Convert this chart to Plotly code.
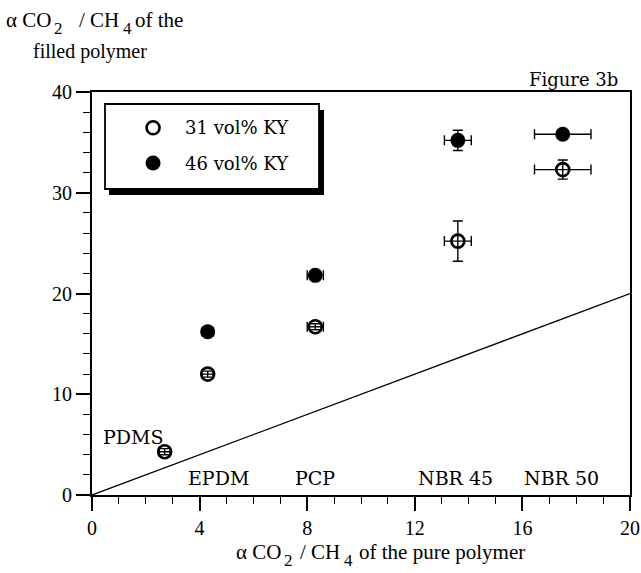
import plotly.graph_objects as go

# Pure-polymer selectivity and filled-polymer selectivity (CO2/CH4)
polymers = ["PDMS", "EPDM", "PCP", "NBR 45", "NBR 50"]
pure_alpha = [2.7, 4.3, 8.3, 13.6, 17.5]
pure_alpha_err = [0.2, 0.2, 0.3, 0.5, 1.05]

series_names = ["31 vol% KY", "46 vol% KY"]
filled_31 = [4.3, 12.0, 16.7, 25.2, 32.3]
filled_31_err = [0.3, 0.3, 0.3, 2.0, 0.95]
filled_46 = [None, 16.2, 21.8, 35.2, 35.8]
filled_46_err = [None, 0.2, 0.3, 1.0, 0.3]

parity = [0, 20]

x_ticks = [0, 4, 8, 12, 16, 20]
y_ticks = [0, 10, 20, 30, 40]

# layout helpers (pixel frame of the plot area)
W, H = 641, 573
L, R, T, B = 92, 11, 92, 78
PW, PH = W - L - R, H - T - B


def px(xp):
    return (xp - L) / PW


def py(yp):
    return (H - B - yp) / PH


SERIF = "Liberation Serif, Times New Roman, serif"
SCHOOL = "DejaVu Serif, serif"

fig = go.Figure()

# y = x reference line
fig.add_trace(go.Scatter(x=parity, y=parity, mode="lines",
                         line=dict(color="black", width=1.3),
                         hoverinfo="skip", showlegend=False))

err_style = dict(color="black", thickness=1.4, width=5)
open_marker = dict(symbol="circle-open", size=13, color="black",
                   line=dict(width=2.6, color="black"))
solid_marker = dict(symbol="circle", size=15, color="black")

fig.add_trace(go.Scatter(
    x=pure_alpha, y=filled_31, mode="markers", name=series_names[0],
    error_x=dict(type="data", array=pure_alpha_err, **err_style),
    error_y=dict(type="data", array=filled_31_err, **err_style),
    marker=open_marker, showlegend=False))

fig.add_trace(go.Scatter(
    x=pure_alpha, y=filled_46, mode="markers", name=series_names[1],
    error_x=dict(type="data", array=pure_alpha_err, **err_style),
    error_y=dict(type="data", array=filled_46_err, **err_style),
    marker=solid_marker, showlegend=False))

# legend keys
key_x = 2.27
key_y = [36.45, 32.95]
fig.add_trace(go.Scatter(x=[key_x], y=[key_y[0]], mode="markers",
                         marker=open_marker, hoverinfo="skip", showlegend=False))
fig.add_trace(go.Scatter(x=[key_x], y=[key_y[1]], mode="markers",
                         marker=solid_marker, hoverinfo="skip", showlegend=False))

shapes = [
    # legend shadow and box
    dict(type="rect", xref="paper", yref="paper",
         x0=px(109), x1=px(324), y0=py(195), y1=py(110),
         fillcolor="black", line=dict(width=0), layer="below"),
    dict(type="rect", xref="paper", yref="paper",
         x0=px(105), x1=px(319), y0=py(189), y1=py(104),
         fillcolor="white", line=dict(color="black", width=1.8), layer="below"),
]

annotations = []
for name, yk in zip(series_names, key_y):
    annotations.append(dict(x=px(183), y=yk, xref="paper", yref="y",
                            text=name, showarrow=False, xanchor="left",
                            yanchor="middle",
                            font=dict(family=SCHOOL, size=18, color="black")))

label_x = [1.55, 4.7, 8.3, 13.5, 17.45]
label_y = [5.8, 1.65, 1.65, 1.65, 1.65]
for name, lx, ly in zip(polymers, label_x, label_y):
    annotations.append(dict(x=lx, y=ly, xref="x", yref="y", text=name,
                            showarrow=False, xanchor="center", yanchor="middle",
                            font=dict(family=SCHOOL, size=19, color="black")))


def text_run(pieces, y_main, y_sub, size_main, size_sub):
    """Lay out a line of text with near full-size subscripts, left to right."""
    out = []
    for left, s, is_sub in pieces:
        out.append(dict(x=px(left - 2), y=py(y_sub if is_sub else y_main),
                        xref="paper", yref="paper", text=s, showarrow=False,
                        xanchor="left", yanchor="middle", borderpad=0,
                        font=dict(family=SERIF,
                                  size=size_sub if is_sub else size_main,
                                  color="black")))
    return out


# y-axis title (top left), two lines
annotations += text_run([(7, "α CO", False), (55, "2", True),
                         (80, "/ CH", False), (124, "4", True),
                         (136, "of the", False)],
                        y_main=20, y_sub=28, size_main=21, size_sub=17)
annotations.append(dict(x=px(31), y=py(52), xref="paper", yref="paper",
                        text="filled polymer", showarrow=False,
                        xanchor="left", yanchor="middle",
                        font=dict(family=SERIF, size=20, color="black")))

# x-axis title
annotations += text_run([(237, "α CO", False), (285, "2", True),
                         (301, "/ CH", False), (345, "4", True),
                         (360, "of the pure polymer", False)],
                        y_main=552, y_sub=560, size_main=21, size_sub=17)

annotations.append(dict(x=px(620), y=py(79), xref="paper", yref="paper",
                        text="Figure 3b", showarrow=False,
                        xanchor="right", yanchor="middle",
                        font=dict(family=SCHOOL, size=18, color="black")))

axis_common = dict(showgrid=False, zeroline=False, showline=True,
                   linecolor="black", linewidth=2, mirror=True,
                   automargin=False,
                   ticks="outside", ticklen=14, tickwidth=1.6, tickcolor="black",
                   tickfont=dict(family=SERIF, size=20, color="black"))

fig.update_layout(
    width=W, height=H, autosize=False,
    margin=dict(l=L, r=R, t=T, b=B, autoexpand=False),
    paper_bgcolor="white", plot_bgcolor="rgba(0,0,0,0)",
    xaxis=dict(range=[0, 20], tickvals=x_ticks,
               minor=dict(dtick=1, ticks="outside", ticklen=7, tickwidth=1.4,
                          tickcolor="black"),
               **axis_common),
    yaxis=dict(range=[0, 40], tickvals=y_ticks,
               minor=dict(dtick=2, ticks="outside", ticklen=7, tickwidth=1.4,
                          tickcolor="black"),
               **axis_common),
    shapes=shapes,
    annotations=annotations,
)

fig.write_html("out.html")
